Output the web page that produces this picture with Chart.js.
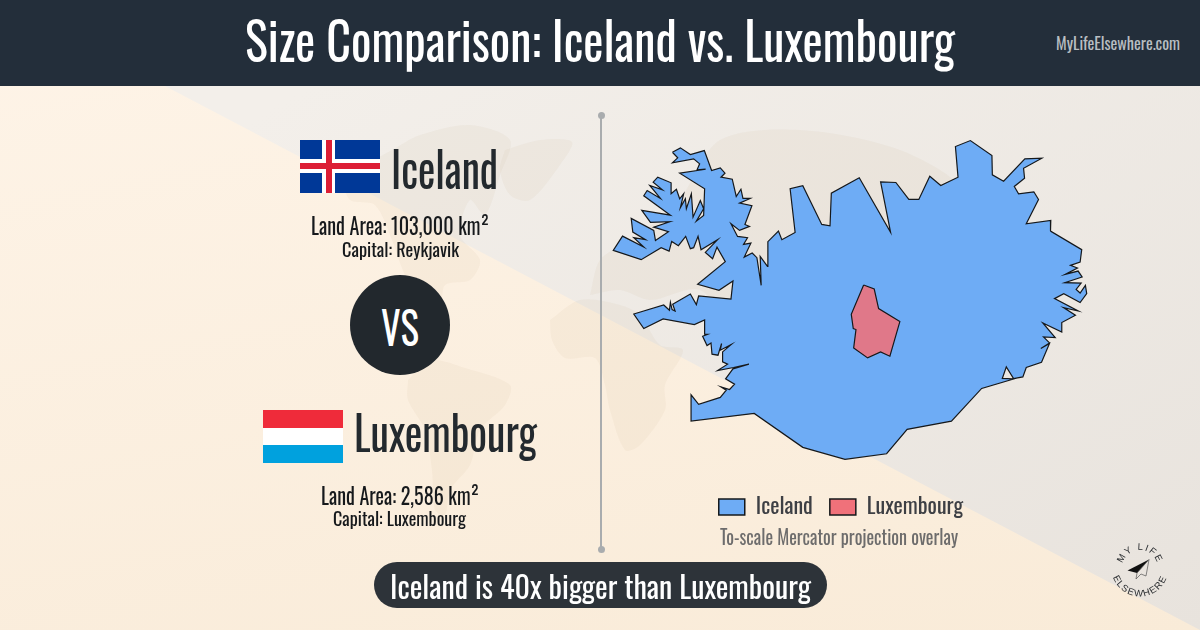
<!DOCTYPE html>
<html>
<head>
<meta charset="utf-8">
<title>Size Comparison: Iceland vs. Luxembourg</title>
<script src="https://cdn.jsdelivr.net/npm/chart.js@4"></script>
<style>
html, body { margin: 0; padding: 0; }
body { width: 1200px; height: 630px; position: relative; overflow: hidden;
  background: linear-gradient(170deg, #fef4e8 0%, #f9ebd8 100%);
  font-family: "Oswald", "Liberation Sans Narrow", "Liberation Sans", sans-serif; }
#band { position: absolute; left: 0; top: 0; width: 1200px; height: 630px;
  background: linear-gradient(150deg, #f3efea 20%, #e8e3dd 100%);
  clip-path: polygon(165px 86px, 1200px 86px, 1200px 630px); }
#worldmap, #sizemap { position: absolute; }
#worldmap { left: 0; top: 0; }
#sizemap { left: 590px; top: 120px; }
#header { position: absolute; left: 0; top: 0; width: 1200px; height: 86px; background: #232e3a; }
.t { position: absolute; white-space: nowrap; transform-origin: 0 50%; line-height: 1; }
#divider { position: absolute; left: 600px; top: 115px; width: 2px; height: 435px; background: #a9acae; }
.dot { position: absolute; left: 597.5px; width: 7px; height: 7px; border-radius: 50%; background: #a9acae; }
#vs { position: absolute; left: 350px; top: 275px; width: 100px; height: 100px; border-radius: 50%; background: #22282d; }
#pill { position: absolute; left: 374px; top: 562px; width: 453px; height: 46px; border-radius: 23px; background: #2d3339; }
.flag { position: absolute; }
#flag-is { left: 300px; top: 140px; width: 80px; height: 53px; background: #003897; }
#flag-lu { left: 263px; top: 410px; width: 80px; height: 53px;
  background: linear-gradient(#ef2b3a 0 33.3%, #ffffff 33.3% 66.6%, #00a1de 66.6% 100%); }
.bar { position: absolute; }
#logo { position: absolute; left: 1090px; top: 530px; }
</style>
</head>
<body>
<div id="band"></div>
<canvas id="worldmap" width="1200" height="630"></canvas>
<div id="header"></div>
<div class="t" data-x="245" data-w="710" data-b="57" data-s="53" style="color:#fff">Size Comparison: Iceland vs. Luxembourg</div>
<div class="t" data-x="1056" data-w="124" data-b="48" data-s="17" style="color:#b9bec2">MyLifeElsewhere.com</div>

<div id="divider"></div>
<div class="dot" style="top:112px"></div>
<div class="dot" style="top:546px"></div>

<div class="flag" id="flag-is">
  <div class="bar" style="left:22px;top:0;width:13px;height:53px;background:#fff"></div>
  <div class="bar" style="left:0;top:19px;width:80px;height:14px;background:#fff"></div>
  <div class="bar" style="left:26px;top:0;width:6px;height:53px;background:#dc1e35"></div>
  <div class="bar" style="left:0;top:23px;width:80px;height:6px;background:#dc1e35"></div>
</div>
<div class="t" data-x="391" data-w="107" data-b="184" data-s="49" style="color:#23292e">Iceland</div>
<div class="t" data-x="311" data-w="178" data-b="233" data-s="23" style="color:#16191c">Land Area: 103,000 km²</div>
<div class="t" data-x="342" data-w="117" data-b="255" data-s="19" style="color:#16191c">Capital: Reykjavik</div>

<div id="vs"></div>
<div class="t" data-x="381" data-w="38" data-b="341" data-s="46" style="color:#fff">VS</div>

<div class="flag" id="flag-lu"></div>
<div class="t" data-x="354" data-w="183" data-b="448" data-s="47" style="color:#23292e">Luxembourg</div>
<div class="t" data-x="321" data-w="158" data-b="503" data-s="23" style="color:#16191c">Land Area: 2,586 km²</div>
<div class="t" data-x="333" data-w="133" data-b="524" data-s="19" style="color:#16191c">Capital: Luxembourg</div>

<canvas id="sizemap" width="502" height="408"></canvas>
<div class="t" data-x="720" data-w="238" data-b="543" data-s="20" style="color:#6d6c6c">To-scale Mercator projection overlay</div>

<div id="pill"></div>
<div class="t" data-x="390" data-w="421" data-b="596" data-s="31" style="color:#fff">Iceland is 40x bigger than Luxembourg</div>

<svg id="logo" width="110" height="100" viewBox="1090 530 110 100">
  <defs>
    <path id="arcTop" d="M1122 568 A18 18 0 0 1 1158 568"/>
    <path id="arcBottom" d="M1111.5 568 A28.5 28.5 0 0 0 1168.5 568"/>
  </defs>
  <text font-family="Liberation Sans, sans-serif" font-size="9.5" letter-spacing="1.5" fill="#2a2d30" text-anchor="middle"><textPath href="#arcTop" startOffset="50%">MY LIFE</textPath></text>
  <text font-family="Liberation Sans, sans-serif" font-size="9.5" letter-spacing="1.2" fill="#2a2d30" text-anchor="middle"><textPath href="#arcBottom" startOffset="50%">ELSEWHERE</textPath></text>
  <polygon points="1127.5,570.5 1149,559.5 1137,573" fill="#111"/>
  <polygon points="1137,573 1149,559.5 1146,576 1141,574 1136,579" fill="none" stroke="#555" stroke-width="0.7"/>
</svg>

<script>
// outlines, in picture x / y
const icelandX = [672,680,690,704,711.3,720,724.7,720.7,732,736,740.7,742.7,750,739.3,751.7,744.7,749.3,739.3,730.7,737.3,747.3,743.3,750.7,744,752,756.7,761,760,767.3,767.7,778.3,781.7,795,790,802.7,821.7,830,831.3,
  859.3,890.7,880.7,896,909,919,930,941,958.3,955.7,970.7,992.3,992.7,1004,1025.3,1042.3,1024,1025,1014.7,1019,1034.3,1039,1026.7,1051.3,1051,1082.3,1080.7,1071,1078,1065.7,1078.7,1082.7,1065.3,1081.7,1076.7,1080.7,1086,1087.3,1080.7,1064.3,1055,1078.7,1064,1076,
  1062.3,1062.3,1043.3,1055.7,1044,1050,1041.3,1050,1042,1026.7,1023.3,1014,1006.7,1002.7,1014,982,951.7,907.3,886.7,845,
  802.7,754,690.7,690.7,698.3,720,726,720.7,729.3,734.3,725.3,732.7,748.7,733.3,717.3,727.3,722.3,722.3,731,720,721.3,717.7,711.7,710.7,706.7,702.3,707.3,703.7,704.3,694,662.7,643.3,633.3,663.3,669,670,671.7,674.7,672.3,690,696,698.3,730.7,732.7,718.7,697.3,
  725,716.7,712.3,705,717.3,700.7,697.7,693.3,690,685.3,678,671.3,668.7,660.7,640.7,612.7,622,643.3,633.3,645,632.3,630.7,653.3,655,668,653.3,669.3,650,641.3,670,643.3,646.7,660,649.3,662,652.7,657.3,670.7,670.7,676,679.3,683.3,680,685,686,691,692.7,700,703.3,696,703.3,704.3,679.3,705.3,696.7,699.3,693.3,672,677.3];
const icelandY = [151.7,147.3,154,150,170,167.3,172.7,176.7,178.7,196,188.7,198,198,202.7,205.3,224,226,230,223.3,236,237.3,244,242.7,256.7,252.7,257.3,285,256,266,241.3,230.7,239.3,232,188.3,185.3,224,225.3,192.7,
  177.3,232,181.3,182,199,199,175.7,185,176.7,146,140,155,174.3,180.7,158.3,157.7,167.7,177.7,186,193.3,191.3,199,223.3,220,230.7,249.3,261.7,265,267.7,274,270.7,276.7,282.3,282.7,289,292.7,285,293.3,302.3,293.3,298.3,310.7,307.3,315,
  322.3,331.7,322.7,337.3,336.7,342.7,348.3,343.3,362,367.3,376.7,378.3,366.7,378.3,378.8,388.3,421,429.3,453.7,459.3,
  447.3,413.3,421,394.7,404.3,397.3,390,386.7,389.3,384,378.7,368.7,364,367.3,370.3,364,361.7,351.7,344.3,350,343.3,355,354,342.7,345.3,336,334,334,319.7,324.3,318.7,328.3,313.7,304.7,310,302,309.3,310.7,304,293.7,304.3,295.7,298.7,280.7,290,284,
  261.3,246.7,258.3,252,239.3,249.3,236,247.3,248.3,236,245.3,241,250.7,247.3,259.3,250,235.7,246.7,237.3,239.3,231.7,218,230,240,231.3,226.7,221.3,222,210,214.7,195.3,190,198,185,189.3,181.7,176.7,182.3,193.3,188.7,198.3,193.3,207.3,198.3,208.3,193.3,216.7,200,208.3,220.7,215,188.3,172.7,168.7,169.3,163.3,158.3,162.3,157.3];
const luxembourgX = [863.7,874.3,878.7,900,890,880.7,867.7,853.7,856,853.3,851.3];
const luxembourgY = [284.7,288.7,308.3,321.3,356,351.7,357.7,347.7,329.3,328.3,314];

// rough faint continents behind everything
const northAmericaX = [392,420,470,510,500,485,470,460,480,470,445,440,425,405,392,375,350,345,365];
const northAmericaY = [150,135,125,140,175,215,200,235,260,280,285,310,305,275,240,205,200,180,165];
const greenlandX = [505,540,572,560,530,510,500];
const greenlandY = [150,140,142,165,200,195,170];
const southAmericaX = [408,430,465,510,505,480,470,450,445,435,432,425,408];
const southAmericaY = [380,360,368,385,405,430,465,490,515,510,470,430,400];
const africaX = [550,580,620,640,660,683,665,665,640,625,610,605,595,565,552];
const africaY = [320,300,305,315,345,350,385,410,445,450,410,385,358,358,340];
const eurasiaX = [590,600,630,665,680,720,800,900,960,900,860,800,760,740,700,650,620];
const eurasiaY = [295,260,240,215,200,140,130,150,190,230,280,300,340,340,290,300,290];

const landColor = "rgba(190,160,120,0.07)";
const mapNames = ["Iceland", "Luxembourg"];
const mapFills = ["#6eacf5", "rgba(240,113,122,0.88)"];
const legendFills = ["#6eacf5", "#f0717a"];
const outlineColor = "#15181b";

function toPoints(xs, ys) {
  const pts = xs.map((x, i) => ({x: x, y: ys[i]}));
  pts.push(pts[0]); // close the shape
  return pts;
}

const fontName = "'Oswald', 'Liberation Sans Narrow', 'Liberation Sans', sans-serif";
const hiddenAxes = (x0, x1, y0, y1) => ({
  x: {type: "linear", display: false, min: x0, max: x1},
  y: {type: "linear", display: false, min: y0, max: y1, reverse: true}
});

new Chart(document.getElementById("worldmap"), {
  type: "scatter",
  data: {
    datasets: [
      [northAmericaX, northAmericaY], [greenlandX, greenlandY], [southAmericaX, southAmericaY],
      [africaX, africaY], [eurasiaX, eurasiaY]
    ].map(([xs, ys]) => ({
      data: toPoints(xs, ys), showLine: true, fill: "shape", tension: 0.3,
      backgroundColor: landColor, borderWidth: 0, pointRadius: 0
    }))
  },
  options: {
    responsive: false, animation: false,
    layout: {padding: 0},
    plugins: {legend: {display: false}, tooltip: {enabled: false}},
    scales: hiddenAxes(0, 1200, 0, 630)
  }
});

const sizeChart = new Chart(document.getElementById("sizemap"), {
  type: "scatter",
  data: {
    datasets: [
      {label: mapNames[0], data: toPoints(icelandX, icelandY), order: 2},
      {label: mapNames[1], data: toPoints(luxembourgX, luxembourgY), order: 1}
    ].map((d, i) => Object.assign(d, {
      showLine: true, fill: "shape", tension: 0,
      backgroundColor: mapFills[i], borderColor: outlineColor, borderWidth: 1.2,
      borderJoinStyle: "miter", pointRadius: 0
    }))
  },
  options: {
    responsive: false, animation: false,
    layout: {padding: 0},
    plugins: {
      tooltip: {enabled: false},
      legend: {
        position: "bottom",
        labels: {
          boxWidth: 26, boxHeight: 16, padding: 17, color: "#3d3f44",
          font: {family: fontName, size: 22},
          sort: (a, b) => a.datasetIndex - b.datasetIndex,
          generateLabels: chart => Chart.defaults.plugins.legend.labels.generateLabels(chart)
            .map(l => Object.assign(l, {fillStyle: legendFills[l.datasetIndex], lineWidth: 1.5}))
        }
      }
    },
    scales: hiddenAxes(590, 1092, 120, 500)
  }
});
// legend eats part of the canvas, so line the y range up with the picture afterwards
sizeChart.options.scales.y.max = 120 + sizeChart.chartArea.bottom;
sizeChart.update("none");

// no Oswald here, so squeeze each line to the width it has in the picture
document.querySelectorAll(".t").forEach(el => {
  const size = +el.dataset.s;
  el.style.fontSize = size + "px";
  el.style.left = el.dataset.x + "px";
  el.style.top = (el.dataset.b - 0.8465 * size) + "px";
  const w = el.getBoundingClientRect().width;
  el.style.transformOrigin = "0 0";
  el.style.transform = "scaleX(" + (el.dataset.w / w) + ")";
});
</script>
</body>
</html>
